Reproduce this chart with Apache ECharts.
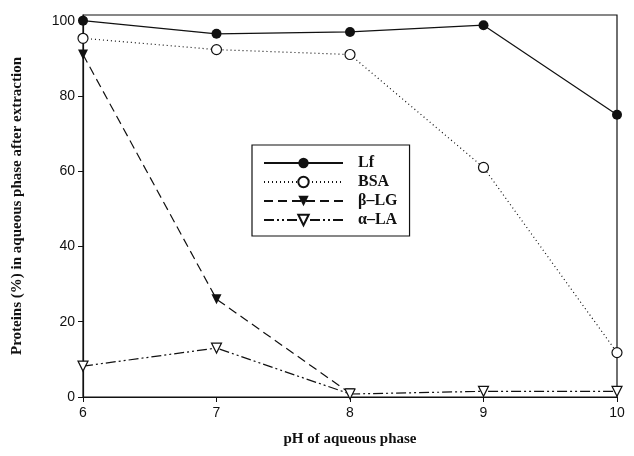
<!DOCTYPE html>
<html>
<head>
<meta charset="utf-8">
<script src="https://cdn.jsdelivr.net/npm/echarts@6/dist/echarts.min.js"></script>
<style>
html, body { margin: 0; padding: 0; background: #fff; }
#main { width: 634px; height: 456px; }
</style>
</head>
<body>
<div id="main"></div>
<script>
var phValues = [6, 7, 8, 9, 10];
var lf = [100, 96.5, 97, 98.8, 75];
var bsa = [95.3, 92.3, 91, 61, 11.8];
var blg = [91, 26, 1];
var ala = [8.2, 13, 0.8, 1.5, 1.5];

function pairs(vals) {
    return vals.map(function (v, i) { return [phValues[i], v]; });
}

var myChart = echarts.init(document.getElementById('main'));

var serifFont = '"Liberation Serif", "DejaVu Serif", serif';
var sansFont = '"Liberation Sans", Arial, sans-serif';

var option = {
    backgroundColor: '#fff',
    animation: false,
    grid: {
        left: 83,
        right: 17,
        top: 15,
        bottom: 59,
        show: true,
        borderColor: '#111',
        borderWidth: 1.2
    },
    legend: {
        orient: 'vertical',
        left: 252,
        top: 145,
        itemWidth: 79,
        itemHeight: 13,
        itemGap: 3,
        padding: [10, 12, 8, 11],
        borderColor: '#111',
        borderWidth: 1.2,
        textStyle: {
            fontFamily: serifFont,
            fontWeight: 'bold',
            fontSize: 16,
            color: '#111',
            padding: [0, 0, 0, 10]
        },
        data: ['Lf', 'BSA', 'β–LG', 'α–LA']
    },
    xAxis: {
        type: 'value',
        min: 6,
        max: 10,
        interval: 1,
        name: 'pH of aqueous phase',
        nameLocation: 'middle',
        nameGap: 35,
        nameTextStyle: {
            fontFamily: serifFont,
            fontWeight: 'bold',
            fontSize: 15,
            color: '#111'
        },
        axisLine: { lineStyle: { color: '#111', width: 1.2 } },
        axisTick: { show: true, length: 5, lineStyle: { color: '#111' } },
        axisLabel: { fontFamily: sansFont, fontSize: 14, color: '#111', margin: 9 },
        splitLine: { show: false }
    },
    yAxis: {
        type: 'value',
        min: 0,
        max: 101.5,
        interval: 20,
        name: 'Proteins (%) in aqueous phase after extraction',
        nameLocation: 'middle',
        nameGap: 58,
        nameTextStyle: {
            fontFamily: serifFont,
            fontWeight: 'bold',
            fontSize: 15,
            color: '#111'
        },
        axisLine: { lineStyle: { color: '#111', width: 1.2 } },
        axisTick: { show: true, length: 5, lineStyle: { color: '#111' } },
        axisLabel: {
            fontFamily: sansFont, fontSize: 14, color: '#111', margin: 8,
            showMaxLabel: false
        },
        splitLine: { show: false }
    },
    series: [
        {
            name: 'Lf',
            type: 'line',
            data: pairs(lf),
            symbol: 'circle',
            symbolSize: 10,
            itemStyle: { color: '#111' },
            lineStyle: { color: '#111', width: 1.2, type: 'solid' }
        },
        {
            name: 'BSA',
            type: 'line',
            data: pairs(bsa),
            symbol: 'circle',
            symbolSize: 10,
            itemStyle: { color: '#fff', borderColor: '#111', borderWidth: 1.2 },
            lineStyle: { color: '#111', width: 1.2, type: [1, 3] }
        },
        {
            name: 'β–LG',
            type: 'line',
            data: pairs(blg),
            symbol: 'triangle',
            symbolRotate: 180,
            symbolSize: 10,
            itemStyle: { color: '#111' },
            lineStyle: { color: '#111', width: 1.2, type: [9, 5] }
        },
        {
            name: 'α–LA',
            type: 'line',
            data: pairs(ala),
            symbol: 'triangle',
            symbolRotate: 180,
            symbolSize: 10,
            itemStyle: { color: '#fff', borderColor: '#111', borderWidth: 1.2 },
            lineStyle: { color: '#111', width: 1.2, type: [10, 3, 2, 3, 2, 3] }
        }
    ]
};

myChart.setOption(option);
</script>
</body>
</html>
